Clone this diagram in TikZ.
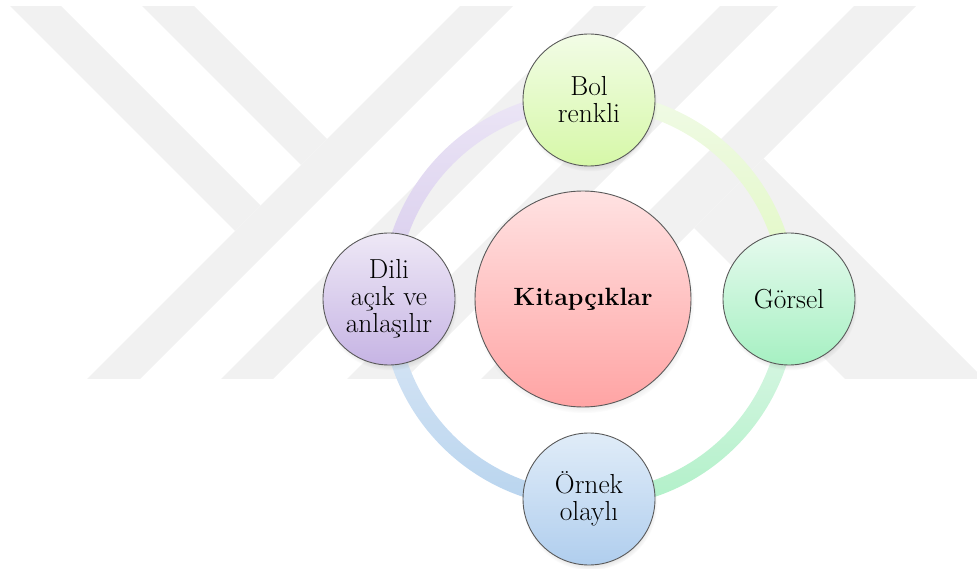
\documentclass[tikz,border=0pt]{standalone}
\usetikzlibrary{shadows,calc,fadings}
\definecolor{wm}{RGB}{241,241,241}
\definecolor{circ}{RGB}{90,90,90}
\definecolor{bolT}{RGB}{242,252,230}
\definecolor{bolB}{RGB}{214,248,168}
\definecolor{gorT}{RGB}{230,250,238}
\definecolor{gorB}{RGB}{166,240,194}
\definecolor{ornT}{RGB}{224,236,248}
\definecolor{ornB}{RGB}{176,206,238}
\definecolor{dilT}{RGB}{238,232,246}
\definecolor{dilB}{RGB}{198,180,228}
\definecolor{kitT}{RGB}{255,226,226}
\definecolor{kitB}{RGB}{255,164,164}
\definecolor{a1T}{RGB}{240,250,230}
\definecolor{a1B}{RGB}{224,248,192}
\definecolor{a2T}{RGB}{226,248,234}
\definecolor{a2B}{RGB}{176,240,200}
\definecolor{a3T}{RGB}{220,232,246}
\definecolor{a3B}{RGB}{184,212,238}
\definecolor{a4T}{RGB}{236,230,246}
\definecolor{a4B}{RGB}{214,202,236}
\tikzset{
  bub/.style={circle, draw=circ, line width=0.9pt, minimum size=132pt, inner sep=0pt,
    align=center, font=\fontsize{27.5}{27}\selectfont,
    circular drop shadow={shadow scale=1.02, shadow xshift=1pt, shadow yshift=-4pt, opacity=0.35}},
  hub/.style={bub, minimum size=216pt, font=\fontsize{25}{27}\selectfont\bfseries}
}
\begin{document}
\begin{tikzpicture}[x=1pt,y=-1pt]
\useasboundingbox (0,0) rectangle (977,569);
% watermark
\begin{scope}
\clip (0,7) rectangle (977,378);
\fill[wm] (4,0) -- (55,0) -- (260.5,205.5) -- (235,231) -- cycle;
\fill[wm] (466,0) -- (519,0) -- (119,400) -- (66,400) -- cycle;
\fill[wm] (136,0) -- (188,0) -- (327,139) -- (301,165) -- cycle;
\fill[wm] (600,0) -- (652,0) -- (252,400) -- (200,400) -- cycle;
\fill[wm] (726,0) -- (784,0) -- (384,400) -- (326,400) -- cycle;
\fill[wm] (860,0) -- (922,0) -- (522,400) -- (460,400) -- cycle;
\fill[wm] (694,228) -- (763.5,158.5) -- (1005,400) -- (866,400) -- cycle;
\end{scope}
% ring arcs
\coordinate (ctr) at (589,299.5);
\def\Ro{208}
\def\Ri{192}
\shade[top color=a1T, bottom color=a1B] ($(ctr)+(270:\Ro)$) arc[start angle=270, end angle=360, radius=\Ro] -- ($(ctr)+(0:\Ri)$) arc[start angle=360, end angle=270, radius=\Ri] -- cycle;
\shade[top color=a2T, bottom color=a2B] ($(ctr)+(0:\Ro)$) arc[start angle=0, end angle=90, radius=\Ro] -- ($(ctr)+(90:\Ri)$) arc[start angle=90, end angle=0, radius=\Ri] -- cycle;
\shade[top color=a3T, bottom color=a3B] ($(ctr)+(90:\Ro)$) arc[start angle=90, end angle=180, radius=\Ro] -- ($(ctr)+(180:\Ri)$) arc[start angle=180, end angle=90, radius=\Ri] -- cycle;
\shade[top color=a4T, bottom color=a4B] ($(ctr)+(180:\Ro)$) arc[start angle=180, end angle=270, radius=\Ro] -- ($(ctr)+(270:\Ri)$) arc[start angle=270, end angle=180, radius=\Ri] -- cycle;
% nodes
\node[hub, top color=kitT, bottom color=kitB] (kit) at (583,299) {Kitapçıklar};
\node[bub, top color=bolT, bottom color=bolB] (bol) at (589,100) {Bol\\renkli};
\node[bub, top color=gorT, bottom color=gorB] (gor) at (789,299) {Görsel};
\node[bub, top color=ornT, bottom color=ornB] (orn) at (589,499) {Örnek\\olaylı};
\node[bub, top color=dilT, bottom color=dilB] (dil) at (389,299) {Dili\\açık ve\\anlaşılır};
\end{tikzpicture}
\end{document}
